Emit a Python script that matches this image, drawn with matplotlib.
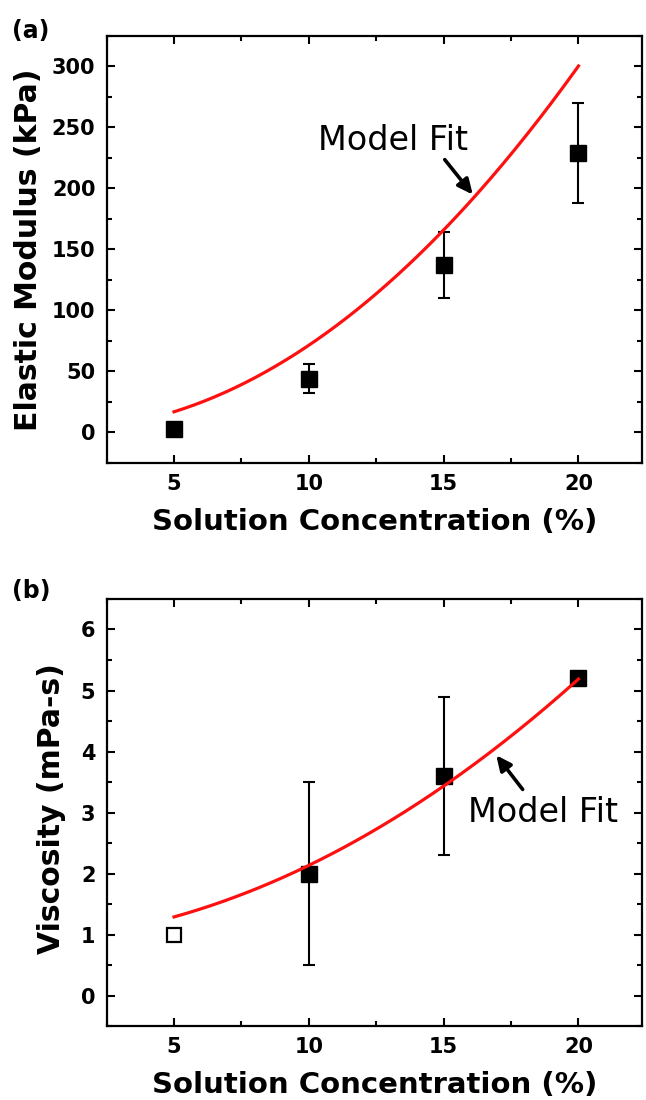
import numpy as np
import matplotlib
matplotlib.use("Agg")
import matplotlib.pyplot as plt

# measured points
conc = [5, 10, 15, 20]
modulus = [3, 44, 137, 229]
modulus_err = [0, 12, 27, 41]

visc_conc = [10, 15, 20]
viscosity = [2.0, 3.6, 5.2]
viscosity_err = [1.5, 1.3, 0]
visc_open_conc = [5]
visc_open = [1.0]

# model fit curves, sampled along the fitted line
fit_conc_a = [5, 10, 15, 20]
fit_modulus = [16.7, 71.3, 165.8, 300.3]
fit_conc_b = [5, 10, 12.5, 15, 20]
fit_viscosity = [1.30, 2.11, 2.73, 3.46, 5.18]

plt.rcParams["font.family"] = "DejaVu Sans"

fig = plt.figure(figsize=(6.46, 11), dpi=100)
ax_a = fig.add_axes([0.165, 0.5794, 0.8286, 0.388])
ax_b = fig.add_axes([0.165, 0.067, 0.8286, 0.3885])

arrow_style = dict(arrowstyle="-|>,head_length=0.9,head_width=0.42",
                   color="black", lw=2.6, shrinkA=0, shrinkB=0)


def style(ax):
    for s in ax.spines.values():
        s.set_linewidth(1.6)
    ax.tick_params(which="both", direction="in", top=True, right=True,
                   width=1.5, labelsize=15, pad=8)
    ax.tick_params(which="major", length=6)
    ax.tick_params(which="minor", length=3.5)
    for lab in ax.get_xticklabels() + ax.get_yticklabels():
        lab.set_fontweight("bold")
    ax.set_xlim(2.5, 22.35)
    ax.set_xticks([5, 10, 15, 20])
    ax.set_xticks(np.arange(2.5, 22.5, 2.5), minor=True)
    ax.set_xlabel("Solution Concentration (%)", fontsize=21, fontweight="bold",
                  labelpad=10)


def fit_line(ax, xs, ys):
    c = np.polyfit(xs, ys, 2)
    xx = np.linspace(xs[0], xs[-1], 200)
    ax.plot(xx, np.polyval(c, xx), color="#ff1010", lw=2.3, zorder=4)


# (a) elastic modulus
ax_a.errorbar(conc, modulus, yerr=modulus_err, fmt="s", color="black",
              ms=11.5, elinewidth=1.5, capsize=4.2, capthick=1.5, zorder=3)
fit_line(ax_a, fit_conc_a, fit_modulus)
ax_a.set_ylim(-25, 325)
ax_a.set_yticks(np.arange(0, 301, 50))
ax_a.set_yticks(np.arange(-25, 326, 25), minor=True)
style(ax_a)
ax_a.set_ylabel("Elastic Modulus (kPa)", fontsize=21.5, fontweight="bold")
ax_a.yaxis.set_label_coords(-0.119, 0.50)
ax_a.text(10.35, 231, "Model Fit", fontsize=24)
ax_a.annotate("", xy=(16.08, 194.8), xytext=(15.04, 223.5),
              arrowprops=arrow_style)

# (b) viscosity
ax_b.errorbar(visc_conc, viscosity, yerr=viscosity_err, fmt="s", color="black",
              ms=11.5, elinewidth=1.5, capsize=4.2, capthick=1.5, zorder=3)
ax_b.plot(visc_open_conc, visc_open, "s", mfc="white", mec="black", mew=1.6,
          ms=10, zorder=3)
fit_line(ax_b, fit_conc_b, fit_viscosity)
ax_b.set_ylim(-0.5, 6.5)
ax_b.set_yticks(np.arange(0, 7, 1))
ax_b.set_yticks(np.arange(-0.5, 6.6, 0.5), minor=True)
style(ax_b)
ax_b.set_ylabel("Viscosity (mPa-s)", fontsize=21.5, fontweight="bold")
ax_b.yaxis.set_label_coords(-0.076, 0.509)
ax_b.text(15.9, 2.84, "Model Fit", fontsize=24)
ax_b.annotate("", xy=(16.95, 3.94), xytext=(17.93, 3.38),
              arrowprops=arrow_style)

fig.text(12 / 646, 1 - 19 / 1100, "(a)", fontsize=17, fontweight="bold",
         va="top", ha="left")
fig.text(12 / 646, 1 - 579 / 1100, "(b)", fontsize=17, fontweight="bold",
         va="top", ha="left")

fig.savefig("out.png", dpi=100)
